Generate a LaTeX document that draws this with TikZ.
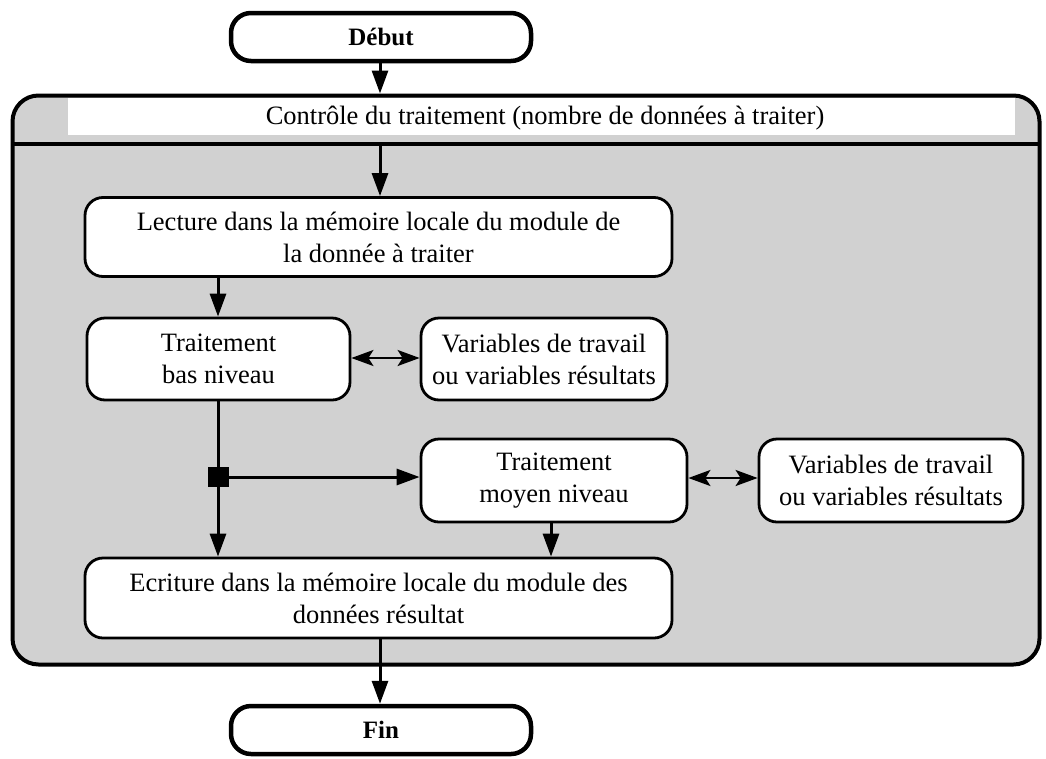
\documentclass[tikz,border=0pt]{standalone}
\usepackage{fontspec}
\setmainfont{Liberation Serif}
\usetikzlibrary{arrows.meta}
\tikzset{
  box/.style={draw, line width=2.8pt, rounded corners=18pt, fill=white, align=center, inner sep=0pt,
    font=\fontsize{26.5}{32}\selectfont},
  term/.style={draw, line width=4.5pt, rounded corners=20pt, fill=white, inner sep=0pt,
    minimum width=300pt, minimum height=48pt, font=\fontsize{25}{30}\selectfont\bfseries},
  container/.style={draw, line width=4pt, rounded corners=26pt, fill=gray!36, inner sep=0pt},
  conn/.style={line width=3pt},
  arr/.style={conn, -{Triangle[length=23pt,width=16pt]}},
  darr/.style={line width=2.2pt, {Stealth[length=22pt,width=16pt,inset=5pt]}-{Stealth[length=22pt,width=16pt,inset=5pt]}},
}
\begin{document}
\begin{tikzpicture}[x=1pt,y=-1pt]
\useasboundingbox (0,0) rectangle (1046,758);
% container
\node[container, minimum width=1027pt, minimum height=569pt] (ctrl) at (526,380) {};
\fill[white] (68,98) rectangle (1015,135);
\node[font=\fontsize{26.5}{30}\selectfont, inner sep=0pt] (hdr) at (545,118) {Contrôle du traitement (nombre de données à traiter)};
\coordinate (hlL) at (14,144);
\coordinate (hlR) at (1038,144);
\draw[line width=4pt] (hlL) -- (hlR);
% terminals
\node[term] (debut) at (381,37) {Début};
\node[term] (fin) at (381,730) {Fin};
% boxes
\node[box, minimum width=587pt, minimum height=79pt] (lect) at (378.5,237) {Lecture dans la mémoire locale du module de\\la donnée à traiter};
\node[box, minimum width=263pt, minimum height=82pt] (bas) at (218.5,359) {Traitement\\bas niveau};
\node[box, minimum width=246pt, minimum height=82pt] (var1) at (544,359) {Variables de travail\\ou variables résultats};
\node[box, minimum width=266pt, minimum height=83pt] (moy) at (554,480.5) {Traitement\\moyen niveau};
\node[box, minimum width=264pt, minimum height=83pt] (var2) at (891,480.5) {Variables de travail\\ou variables résultats};
\node[box, minimum width=587pt, minimum height=80pt] (ecr) at (378.5,598) {Ecriture dans la mémoire locale du module des\\données résultat};
\node[fill=black, minimum width=21pt, minimum height=20pt, inner sep=0pt] (jn) at (218,477) {};
% coordinates for connector columns
\coordinate (c1) at (380,0);
\coordinate (c2) at (218,0);
\coordinate (c3) at (551,0);
\coordinate (r1) at (0,358);
\coordinate (r2) at (0,478);
\coordinate (hl) at (380,144);
% connectors
\draw[arr] (debut.south -| c1) -- (ctrl.north -| c1);
\draw[arr] (hl) -- (lect.north -| hl);
\draw[arr] (lect.south -| c2) -- (bas.north -| c2);
\draw[darr] (bas.east |- r1) -- (var1.west |- r1);
\draw[conn] (bas.south -| c2) -- (jn.north -| c2);
\draw[arr] (jn.south -| c2) -- (ecr.north -| c2);
\draw[arr] (jn) -- (jn -| moy.west);
\draw[darr] (moy.east |- r2) -- (var2.west |- r2);
\draw[arr] (moy.south -| c3) -- (ecr.north -| c3);
\draw[arr] (ecr.south -| c1) -- (fin.north -| c1);
\end{tikzpicture}
\end{document}
